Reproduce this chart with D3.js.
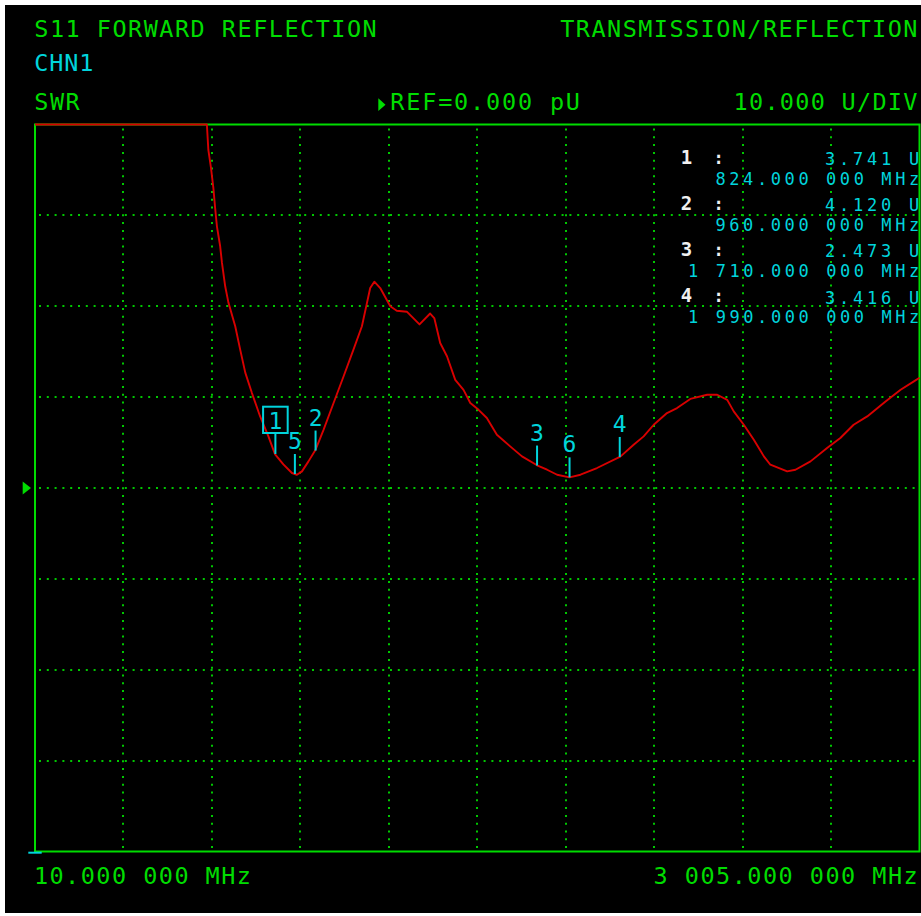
<!DOCTYPE html>
<html><head><meta charset="utf-8">
<script src="https://cdn.jsdelivr.net/npm/d3@7"></script>
<style>html,body{margin:0;padding:0;background:#fff;overflow:hidden;} svg{display:block;}</style>
</head><body>
<script>
// ---- data ----
const freqMHz = [10, 592, 597, 606, 614, 620, 626, 637, 643, 654, 665, 688, 705, 722, 744, 772, 800, 823, 851, 880,
  897, 914, 936, 959, 987, 1021, 1055, 1088, 1117, 1134, 1145, 1159, 1179, 1213, 1235, 1269, 1312, 1348, 1362, 1382,
  1405, 1433, 1461, 1484, 1512, 1540, 1574, 1619, 1659, 1710, 1744, 1778, 1820, 1857, 1913, 1992, 2037, 2071, 2105, 2150,
  2184, 2229, 2286, 2320, 2354, 2376, 2410, 2444, 2478, 2500, 2557, 2585, 2636, 2692, 2737, 2782, 2828, 2890, 2941, 2986, 3005];
const swrU = [40, 40, 37.2, 35.2, 33.0, 30.8, 28.8, 26.6, 24.8, 22.2, 20.4, 17.8, 15.2, 12.7, 10.5, 7.9, 5.7, 3.7, 2.6, 1.65,
  1.46, 1.83, 2.93, 4.15, 6.4, 9.35, 12.3, 15.2, 17.8, 20.35, 22.0, 22.7, 22.0, 20.0, 19.5, 19.4, 18.0, 19.2, 18.7, 15.95,
  14.5, 11.9, 10.8, 9.35, 8.6, 7.7, 5.86, 4.58, 3.48, 2.5, 2.01, 1.46, 1.17, 1.46, 2.2, 3.45, 4.76, 5.68, 6.96, 8.25,
  8.8, 9.8, 10.26, 10.26, 9.7, 8.43, 6.96, 5.31, 3.48, 2.56, 1.83, 2.01, 2.93, 4.4, 5.5, 6.96, 7.88, 9.53, 10.81, 11.73, 12.13];

const markerIds = ["1", "2", "3", "4", "5", "6"];
const markerFreq = [824, 960, 1710, 1990, 890, 1820];
const markerVal = [3.741, 4.120, 2.473, 3.416, null, null];
const markerFreqText = ["824.000 000 MHz", "960.000 000 MHz", "1 710.000 000 MHz", "1 990.000 000 MHz"];
const activeMarker = "1";

const xStart = 10, xStop = 3005;           // MHz
const refLevel = 0, perDiv = 10;           // U, U/DIV
const xDivs = 10, yDivs = 8, refDiv = 4;   // ref position (divisions from bottom)

const titleLeft = "S11 FORWARD REFLECTION";
const titleRight = "TRANSMISSION/REFLECTION";
const channel = "CHN1";
const format = "SWR";
const refText = "REF=0.000 pU";
const scaleText = "10.000 U/DIV";
const startText = "10.000 000 MHz";
const stopText = "3 005.000 000 MHz";

// ---- layout ----
const W = 921, H = 916;
const L = 35, R = 919.5, T = 124.5, B = 851.5;
const GREEN = "#00dc00", GRID = "#00c800", CYAN = "#00d4dc", RED = "#d80000", WHITE = "#f0f0f0";
const FONT = "'DejaVu Sans Mono', 'Liberation Mono', monospace";

const svg = d3.select("body").append("svg").attr("width", W).attr("height", H);
svg.append("rect").attr("x", 5).attr("y", 5).attr("width", W - 5).attr("height", 908).attr("fill", "#000");

const x = d3.scaleLinear().domain([xStart, xStop]).range([L, R]);
const y = d3.scaleLinear()
  .domain([refLevel - refDiv * perDiv, refLevel + (yDivs - refDiv) * perDiv])
  .range([B, T]).clamp(true);

// grid
const xTicks = d3.range(1, xDivs).map(i => xStart + i * (xStop - xStart) / xDivs);
const yTicks = d3.range(1, yDivs).map(i => y.domain()[0] + i * perDiv);
const grid = svg.append("g");
grid.selectAll("line.v").data(xTicks).join("line")
  .attr("x1", d => Math.round(x(d))).attr("x2", d => Math.round(x(d)))
  .attr("y1", T + 4).attr("y2", B)
  .attr("stroke", GRID).attr("stroke-width", 2).attr("stroke-dasharray", "2 5.8");
grid.selectAll("line.h").data(yTicks).join("line")
  .attr("y1", d => Math.round(y(d))).attr("y2", d => Math.round(y(d)))
  .attr("x1", L + 4).attr("x2", R)
  .attr("stroke", GRID).attr("stroke-width", 2).attr("stroke-dasharray", "2 5.8");

// border
svg.append("rect").attr("x", L).attr("y", T).attr("width", R - L).attr("height", B - T)
  .attr("fill", "none").attr("stroke", GREEN).attr("stroke-width", 2);

// trace
const pts = freqMHz.map((f, i) => [f, swrU[i]]);
const line = d3.line().x(d => x(d[0])).y(d => y(d[1]));
svg.append("path").datum(pts).attr("d", line)
  .attr("fill", "none").attr("stroke", RED).attr("stroke-width", 1.9).attr("stroke-linejoin", "round");

// ref arrow on left
const yr = y(refLevel);
svg.append("path").attr("d", `M22.7,${yr - 6.5}L31,${yr}L22.7,${yr + 6.5}Z`).attr("fill", GREEN);
// small cyan mark at lower left
svg.append("line").attr("x1", 28.3).attr("x2", 41.7).attr("y1", B + 1.2).attr("y2", B + 1.2)
  .attr("stroke", CYAN).attr("stroke-width", 2);

// ---- text helper: place monospace text by glyph extents ----
function mono(str, x0, x1, base, size, color, weight) {
  const n = str.length;
  const gw = 0.47 * size;
  const adv = n > 1 ? (x1 - x0 - gw) / (n - 1) : 0.602 * size;
  const ls = adv - 0.602 * size;
  const t = svg.append("text").attr("x", x0 - 0.06 * size).attr("y", base)
    .attr("font-family", FONT).attr("font-size", size).attr("font-weight", weight || "normal")
    .attr("fill", color).attr("xml:space", "preserve").style("white-space", "pre");
  t.append("tspan").attr("letter-spacing", ls).text(str.slice(0, -1));
  t.append("tspan").attr("letter-spacing", 0).text(str.slice(-1));
  return t;
}

const HS = 23.5;
mono(titleLeft, 35.7, 375, 37.3, HS, GREEN);
mono(titleRight, 561.7, 915.7, 37.3, HS, GREEN);
mono(channel, 35.7, 91.7, 70.7, HS, CYAN);
mono(format, 35.7, 78, 110, HS, GREEN);
svg.append("path").attr("d", "M378.3,98.3L385.5,104.7L378.3,111Z").attr("fill", GREEN);
mono(refText, 391.7, 578.3, 110, HS, GREEN);
mono(scaleText, 735, 915.7, 110, HS, GREEN);
mono(startText, 35.3, 249.3, 884.3, HS, GREEN);
mono(stopText, 655, 916, 884.3, HS, GREEN);

// ---- marker readout list ----
const CS = 17, CADV = 13.71, CRIGHT = 918, CGW = 9.6;
function rightMono(str, base) {
  const n = str.length;
  const x0 = CRIGHT - CGW - (n - 1) * CADV;
  return mono(str, x0, CRIGHT, base, CS, CYAN);
}
const fmtV = d3.format(".3f");
markerVal.forEach((v, i) => {
  if (v == null) return;
  const base = 165 + i * 46.2;
  svg.append("text").attr("x", 686.5).attr("y", base - 1.5).attr("text-anchor", "middle")
    .attr("font-family", FONT).attr("font-size", 19).attr("font-weight", "bold")
    .attr("fill", WHITE).text(markerIds[i]);
  svg.append("text").attr("x", 718.5).attr("y", base - 1.5).attr("text-anchor", "middle")
    .attr("font-family", FONT).attr("font-size", 17).attr("font-weight", "bold")
    .attr("fill", WHITE).text(":");
  rightMono(fmtV(v) + " U", base);
  rightMono(markerFreqText[i], base + 19.8);
});

// ---- marker flags on the trace ----
const bis = d3.bisector(d => d[0]).left;
function traceAt(f) {
  const j = Math.max(1, Math.min(pts.length - 1, bis(pts, f)));
  const a = pts[j - 1], b = pts[j];
  const t = (f - a[0]) / (b[0] - a[0]);
  return a[1] + t * (b[1] - a[1]);
}
const flags = svg.append("g");
markerIds.forEach((id, i) => {
  const f = markerFreq[i];
  const v = markerVal[i] != null ? markerVal[i] : traceAt(f);
  const mx = x(f), my = y(v);
  flags.append("line").attr("x1", mx).attr("x2", mx).attr("y1", my).attr("y2", my - 20)
    .attr("stroke", CYAN).attr("stroke-width", 2);
  flags.append("text").attr("x", mx).attr("y", my - 25).attr("text-anchor", "middle")
    .attr("font-family", FONT).attr("font-size", 23).attr("fill", CYAN).text(id);
  if (id === activeMarker) {
    flags.append("rect").attr("x", mx - 12.3).attr("y", my - 47.3).attr("width", 24.6).attr("height", 26.3)
      .attr("fill", "none").attr("stroke", CYAN).attr("stroke-width", 2);
  }
});
</script>
</body></html>
